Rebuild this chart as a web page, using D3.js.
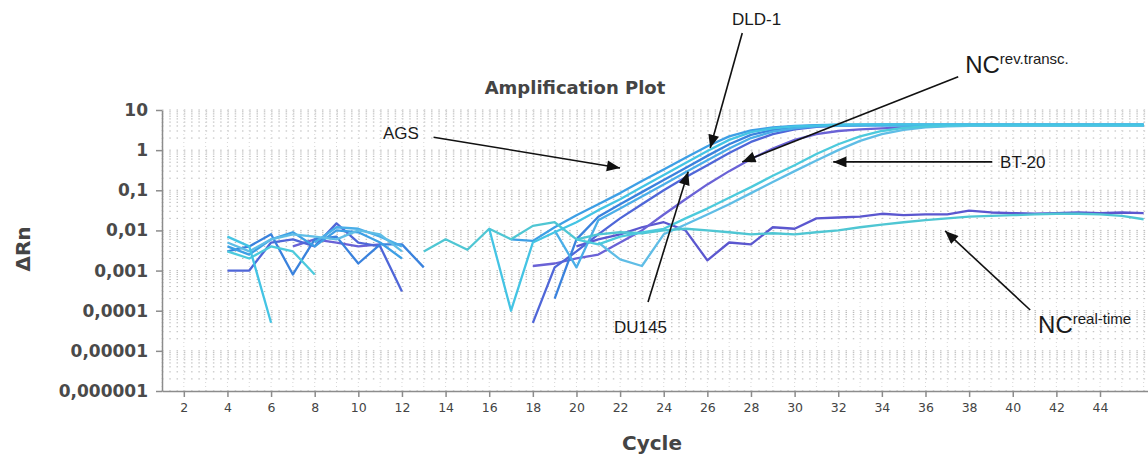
<!DOCTYPE html>
<html>
<head>
<meta charset="utf-8">
<script src="https://cdn.jsdelivr.net/npm/d3@7"></script>
<style>
  body { margin: 0; background: #fff; }
  svg { display: block; }
</style>
</head>
<body>
<svg id="chart" width="1148" height="454"></svg>
<script>
// cycles 4..46, one value per cycle, null = not plotted (<= 0 on log scale)
const cycles = d3.range(4, 47);

const xTicks = [2, 4, 6, 8, 10, 12, 14, 16, 18, 20, 22, 24, 26, 28, 30, 32, 34, 36, 38, 40, 42, 44];
const yTicks = [1e-6, 1e-5, 1e-4, 1e-3, 1e-2, 1e-1, 1, 10];
const yTickLabels = ["0,000001", "0,00001", "0,0001", "0,001", "0,01", "0,1", "1", "10"];

const agsA = [0.004, 0.0025, 0.006, 0.009, 0.004, 0.01, 0.009, 0.005, 0.002, null, null, null, null,
  0.006, 0.0055, 0.012, 0.024, 0.045, 0.085, 0.17, 0.33, 0.65, 1.25, 2.2, 3.1, 3.7, 4.0,
  4.2, 4.3, 4.3, 4.3, 4.3, 4.3, 4.3, 4.3, 4.3, 4.3, 4.3, 4.3, 4.3, 4.3, 4.3, 4.3];
const agsB = [0.007, 0.004, 0.00005, null, null, null, null, null, null, null, null, null,
  0.011, 0.0001, 0.005, 0.009, 0.016, 0.032, 0.06, 0.12, 0.24, 0.48, 0.95, 1.8, 2.8, 3.5, 3.9, 4.1,
  4.3, 4.4, 4.4, 4.4, 4.4, 4.4, 4.4, 4.4, 4.4, 4.4, 4.4, 4.4, 4.4, 4.4, 4.4];
const dldA = [0.003, 0.004, 0.008, 0.0008, 0.006, 0.007, 0.0015, 0.0045, 0.0045, 0.0012, null, null, null, null, null,
  0.0002, 0.006, 0.022, 0.045, 0.09, 0.18, 0.36, 0.72, 1.4, 2.4, 3.2, 3.8, 4.1,
  4.2, 4.2, 4.2, 4.2, 4.2, 4.2, 4.2, 4.2, 4.2, 4.2, 4.2, 4.2, 4.2, 4.2, 4.2];
const dldB = [null, null, null, null, 0.005, 0.012, 0.011, 0.007, 0.004, null, null, null, null, null, null,
  0.01, 0.0012, 0.018, 0.035, 0.07, 0.14, 0.28, 0.56, 1.1, 2.0, 2.9, 3.5, 3.9, 4.0,
  4.1, 4.1, 4.1, 4.1, 4.1, 4.1, 4.1, 4.1, 4.1, 4.1, 4.1, 4.1, 4.1, 4.1];
const du145 = [0.001, 0.001, 0.005, 0.006, 0.004, 0.015, 0.005, 0.004, 0.0003, null, null, null, null, null,
  0.00005, 0.0012, 0.003, 0.008, 0.02, 0.045, 0.1, 0.21, 0.42, 0.85, 1.6, 2.5, 3.3, 3.8, 4.1,
  4.2, 4.3, 4.3, 4.3, 4.3, 4.3, 4.3, 4.3, 4.3, 4.3, 4.3, 4.3, 4.3, 4.3];
const ncRev = [null, null, null, 0.004, 0.006, 0.005, 0.004, 0.0045, null, null, null, null, null, null,
  0.0013, 0.0015, 0.002, 0.0025, 0.005, 0.01, 0.025, 0.06, 0.14, 0.3, 0.6, 1.1, 1.8, 2.5, 3.0, 3.3, 3.5, 3.7, 3.9, 4.0, 4.1,
  4.1, 4.1, 4.1, 4.1, 4.1, 4.1, 4.1, 4.1];
const bt20A = [0.003, 0.002, 0.004, 0.003, 0.0008, null, null, null, null, null, null, null, null, null, null, null,
  0.006, 0.0045, 0.007, 0.009, 0.011, 0.02, 0.035, 0.065, 0.12, 0.23, 0.42, 0.8, 1.4, 2.2, 3.0, 3.6, 3.9, 4.1,
  4.2, 4.2, 4.2, 4.2, 4.2, 4.2, 4.2, 4.2, 4.2];
const bt20B = [0.005, 0.003, 0.006, 0.008, 0.007, 0.006, 0.01, 0.008, 0.003, null, null, null, null, null, null, null, null,
  0.005, 0.0019, 0.0013, 0.008, 0.014, 0.025, 0.045, 0.085, 0.16, 0.3, 0.55, 1.0, 1.7, 2.5, 3.2, 3.7, 3.9, 4.0,
  4.0, 4.0, 4.0, 4.0, 4.0, 4.0, 4.0, 4.0];
const ncRtA = [null, null, null, null, null, null, null, null, null, null, null, null, null, null, null, null,
  0.004, 0.006, 0.008, 0.012, 0.016, 0.01, 0.0018, 0.005, 0.0045, 0.012, 0.011, 0.02, 0.021, 0.022, 0.026, 0.024,
  0.025, 0.025, 0.031, 0.028, 0.027, 0.026, 0.027, 0.028, 0.027, 0.028, 0.027];
const ncRtB = [null, null, null, null, null, null, null, null, null,
  0.003, 0.006, 0.0033, 0.011, 0.006, 0.013, 0.016, 0.006, 0.008, 0.009, 0.0085, 0.01, 0.011, 0.01, 0.009, 0.008,
  0.0085, 0.008, 0.009, 0.01, 0.012, 0.014, 0.016, 0.018, 0.02, 0.022, 0.023, 0.024, 0.025, 0.026, 0.026, 0.025, 0.023, 0.019];

// drawing order: purples first, cyans last (cyan ends up on top of the plateau)
const seriesNames = ["NC rt a", "NC rev", "DU145", "DLD-1 a", "AGS a", "DLD-1 b", "BT-20 b", "NC rt b", "BT-20 a", "AGS b"];
const seriesValues = [ncRtA, ncRev, du145, dldA, agsA, dldB, bt20B, ncRtB, bt20A, agsB];
const seriesColors = ["#5b57cf", "#6a62d6", "#4f66d8", "#3a82dd", "#3d9fe5", "#4aaee8", "#5fbde6", "#4fc6d3", "#4ccadc", "#44c4e4"];

// annotations in data coordinates: [cycle, dRn]
const notes = [
  { text: "AGS", sup: null, label: [11.13, 1.9], tail: [13.45, 2.1], tip: [22.0, 0.36] },
  { text: "DLD-1", sup: null, label: [27.13, 1300], tail: [27.6, 830], tip: [26.13, 1.13] },
  { text: "NC", sup: "rev.transc.", label: [37.82, 84], tail: [37.5, 67], tip: [27.6, 0.51] },
  { text: "BT-20", sup: null, label: [39.42, 0.36], tail: [39.06, 0.51], tip: [31.77, 0.51] },
  { text: "DU145", sup: null, label: [21.72, 2.8e-5], tail: [23.28, 1.65e-4], tip: [25.12, 0.29] },
  { text: "NC", sup: "real-time", label: [41.16, 2.8e-5], tail: [40.8, 1.04e-4], tip: [36.9, 0.0097] }
];

const svg = d3.select("#chart");
const W = 1148, H = 454;
const pLeft = 162, pRight = 1148, pTop = 110, pBottom = 391;

const x = d3.scaleLinear().domain([1, 46.2]).range([pLeft, pRight]);
const y = d3.scaleLog().domain([1e-6, 10]).range([pBottom, pTop]);

svg.append("rect").attr("width", W).attr("height", H).attr("fill", "#fff");

// grid
const grid = svg.append("g");
grid.selectAll("line.h").data(y.ticks()).enter().append("line")
  .attr("x1", pLeft).attr("x2", pRight)
  .attr("y1", d => y(d)).attr("y2", d => y(d))
  .attr("stroke", "#b8b8b8").attr("stroke-width", 1)
  .attr("stroke-dasharray", "1.5," + (x(1 + 1 / 3) - x(1) - 1.5));
grid.selectAll("line.v").data(d3.range(1, 47)).enter().append("line")
  .attr("x1", d => x(d)).attr("x2", d => x(d))
  .attr("y1", pTop).attr("y2", pBottom)
  .attr("stroke", "#d6d6d6").attr("stroke-width", 1)
  .attr("stroke-dasharray", "1,3");

// curves
svg.append("clipPath").attr("id", "plot")
  .append("rect").attr("x", pLeft).attr("y", pTop - 10).attr("width", pRight - pLeft).attr("height", pBottom - pTop + 10);

const line = d3.line()
  .defined(d => d.v != null)
  .x(d => x(d.c))
  .y(d => y(d.v));

svg.append("g").attr("clip-path", "url(#plot)")
  .selectAll("path").data(seriesValues).enter().append("path")
  .attr("d", vals => line(vals.map((v, i) => ({ c: cycles[i], v: v }))))
  .attr("fill", "none")
  .attr("stroke", (d, i) => seriesColors[i])
  .attr("stroke-width", 2.3)
  .attr("stroke-linejoin", "round");

// axes
const yAxis = svg.append("g").attr("transform", `translate(${pLeft},0)`)
  .call(d3.axisLeft(y).tickValues(yTicks).tickSize(6).tickSizeOuter(0)
    .tickFormat((d, i) => yTickLabels[i]));
yAxis.select(".domain").attr("stroke", "#8c8c8c").attr("stroke-width", 1.5);
yAxis.selectAll(".tick line").attr("stroke", "#8c8c8c").attr("stroke-width", 1.5);
yAxis.selectAll(".tick text")
  .attr("x", -14)
  .attr("fill", "#4a4a4a")
  .style("font-family", "'DejaVu Sans', sans-serif")
  .style("font-weight", "bold")
  .style("font-size", "17px");

const xAxis = svg.append("g").attr("transform", `translate(0,${pBottom})`)
  .call(d3.axisBottom(x).tickValues(xTicks).tickSize(6).tickSizeOuter(0));
xAxis.select(".domain").attr("stroke", "#8c8c8c").attr("stroke-width", 1.5);
xAxis.selectAll(".tick line").attr("stroke", "#8c8c8c").attr("stroke-width", 1.5);
xAxis.selectAll(".tick text")
  .attr("y", 12)
  .attr("fill", "#444")
  .style("font-family", "'DejaVu Sans', sans-serif")
  .style("font-size", "12.5px");

// titles
svg.append("text")
  .attr("x", 575).attr("y", 94)
  .attr("text-anchor", "middle")
  .attr("fill", "#444")
  .style("font-family", "'DejaVu Sans', sans-serif")
  .style("font-weight", "bold")
  .style("font-size", "18px")
  .text("Amplification Plot");

svg.append("text")
  .attr("x", 652).attr("y", 450)
  .attr("text-anchor", "middle")
  .attr("fill", "#444")
  .style("font-family", "'DejaVu Sans', sans-serif")
  .style("font-weight", "bold")
  .style("font-size", "20px")
  .text("Cycle");

svg.append("text")
  .attr("transform", "translate(30,249) rotate(-90)")
  .attr("text-anchor", "middle")
  .attr("fill", "#444")
  .style("font-family", "'DejaVu Sans', sans-serif")
  .style("font-weight", "bold")
  .style("font-size", "20px")
  .text("ΔRn");

// arrows
const defs = svg.append("defs");
defs.append("marker")
  .attr("id", "head")
  .attr("viewBox", "0 0 12 10")
  .attr("refX", 12).attr("refY", 5)
  .attr("markerWidth", 14).attr("markerHeight", 11)
  .attr("markerUnits", "userSpaceOnUse")
  .attr("orient", "auto")
  .append("path").attr("d", "M0,0 L12,5 L0,10 Z").attr("fill", "#111");

const ann = svg.append("g");
ann.selectAll("line").data(notes).enter().append("line")
  .attr("x1", d => x(d.tail[0])).attr("y1", d => y(d.tail[1]))
  .attr("x2", d => x(d.tip[0])).attr("y2", d => y(d.tip[1]))
  .attr("stroke", "#111").attr("stroke-width", 1.6)
  .attr("marker-end", "url(#head)");

const lbl = ann.selectAll("text").data(notes).enter().append("text")
  .attr("x", d => x(d.label[0])).attr("y", d => y(d.label[1]))
  .attr("fill", "#1a1a1a")
  .style("font-family", "'Liberation Sans', Arial, sans-serif");
lbl.append("tspan")
  .style("font-size", d => d.sup ? "24px" : "17px")
  .text(d => d.text);
lbl.filter(d => d.sup).append("tspan")
  .attr("dy", -9)
  .style("font-size", "15px")
  .text(d => d.sup);
</script>
</body>
</html>
